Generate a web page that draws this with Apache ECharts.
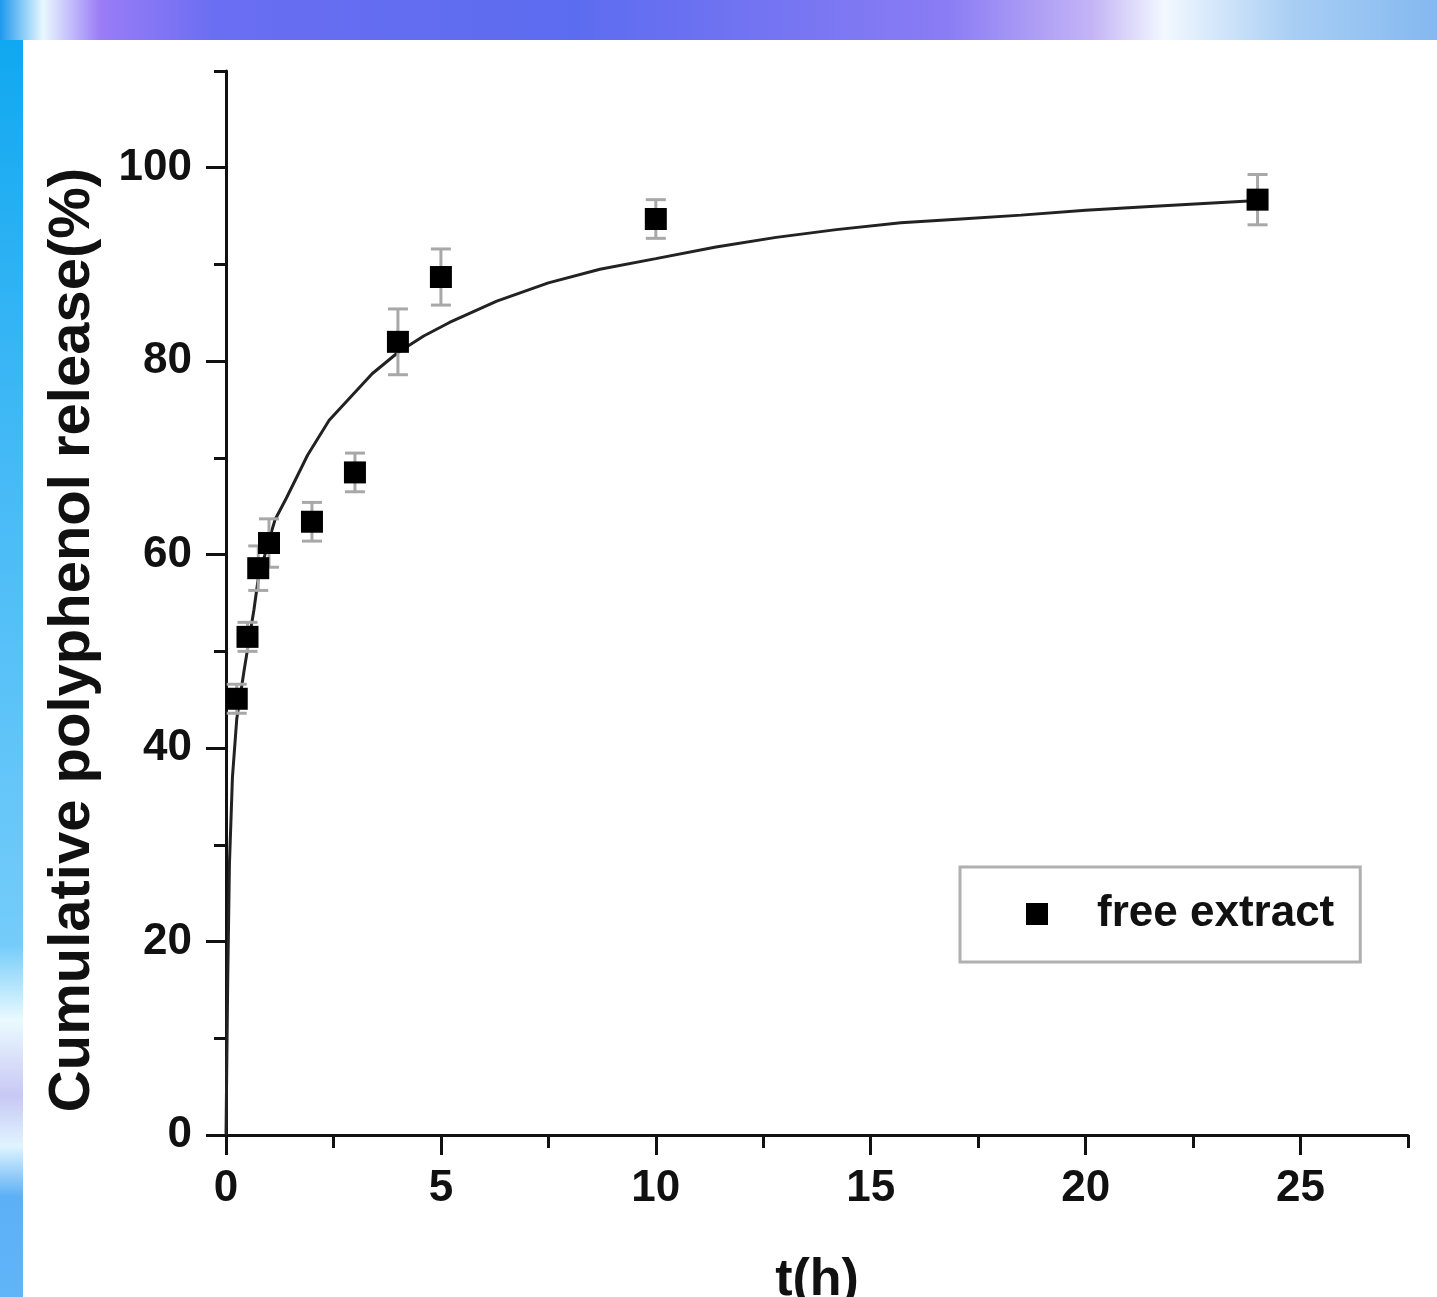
<!DOCTYPE html>
<html>
<head>
<meta charset="utf-8">
<script src="https://cdn.jsdelivr.net/npm/echarts@6/dist/echarts.min.js"></script>
<style>
  html, body {
    margin: 0;
    width: 1437px;
    height: 1297px;
    overflow: hidden;
  }
  body {
    position: relative;
    background: linear-gradient(90deg, #1e98ee 0%, #e8f8ff 3%, #9a7cf6 7%, #6a6ef2 15%, #5c6cf0 40%, #8a7cf4 66%, #c4b4f6 76%, #f2f8ff 81%, #a8cef4 90%, #84b8f0 100%);
  }
  .strip {
    position: absolute;
    left: 0;
    top: 40px;
    width: 23px;
    height: 1257px;
    background: linear-gradient(180deg, #10a8f0 0%, #40b8f6 30%, #74ccfa 72%, #eafaff 78%, #c8c8f4 84%, #e0f4ff 88%, #5cb0f6 92%, #60b4f8 100%);
  }
  #main {
    position: absolute;
    left: 23px;
    top: 40px;
    width: 1414px;
    height: 1257px;
    background: #fff;
  }
</style>
</head>
<body>
<div class="strip"></div>
<div id="main"></div>
<script>
// measured points (mean +- error)
const timeH = [0.25, 0.5, 0.75, 1, 2, 3, 4, 5, 10, 24]
const releasePct = [45.1, 51.5, 58.6, 61.2, 63.4, 68.5, 82.0, 88.7, 94.7, 96.7]
const releaseErr = [1.5, 1.5, 2.3, 2.5, 2.0, 2.0, 3.4, 2.9, 2.0, 2.6]

// fitted curve
const fitTime = [0, 0.04, 0.08, 0.15, 0.25, 0.42, 0.65, 0.75, 1, 1.14, 1.4, 1.9, 2.4, 2.9, 3.4, 4, 4.6, 5.2, 6.3, 7.5, 8.7, 10, 11.4, 12.8, 14.2, 15.7, 17.1, 18.5, 20, 21.5, 24]
const fitPct = [0, 16, 28, 37, 43, 48, 54.3, 57.5, 61.5, 63.6, 65.8, 70.3, 73.9, 76.3, 78.7, 80.9, 82.6, 84.0, 86.2, 88.1, 89.5, 90.6, 91.8, 92.8, 93.6, 94.3, 94.7, 95.1, 95.6, 96.0, 96.6]

// tick labels
const xMajorTicks = [0, 5, 10, 15, 20, 25]
const xMinorTicks = [2.5, 7.5, 12.5, 17.5, 22.5, 27.5]
const yMajorTicks = [0, 20, 40, 60, 80, 100]
const yMinorTicks = [10, 30, 50, 70, 90, 110]

const font = '"Liberation Sans", Arial, sans-serif'
const axisColor = '#111'

const myChart = echarts.init(document.getElementById('main'))

const pointData = timeH.map((t, i) => [t, releasePct[i]])
const errData = timeH.map((t, i) => [t, releasePct[i] - releaseErr[i], releasePct[i] + releaseErr[i]])
const fitData = fitTime.map((t, i) => [t, fitPct[i]])

const option = {
  animation: false,
  textStyle: { fontFamily: font },
  grid: {
    left: 203,
    top: 31,
    width: 1182,
    height: 1064,
    containLabel: false,
    outerBoundsMode: 'none'
  },
  legend: {
    data: [{ name: 'free extract', icon: 'rect' }],
    left: 937,
    top: 827,
    orient: 'vertical',
    itemWidth: 22,
    itemHeight: 22,
    padding: [25, 26, 26, 66],
    borderColor: '#b0b0b0',
    borderWidth: 3,
    textStyle: {
      fontFamily: font,
      fontWeight: 'bold',
      fontSize: 44,
      color: '#111',
      padding: [0, 0, 0, 44]
    }
  },
  xAxis: [
    {
      type: 'value',
      min: 0,
      max: 27.5,
      name: 't(h)',
      nameLocation: 'middle',
      nameGap: 120,
      nameTextStyle: { fontFamily: font, fontWeight: 'bold', fontSize: 52, color: '#111' },
      axisLine: { show: true, onZero: false, lineStyle: { color: axisColor, width: 3 } },
      axisTick: { show: true, customValues: xMajorTicks, length: 20, lineStyle: { color: axisColor, width: 3 } },
      axisLabel: {
        customValues: xMajorTicks,
        margin: 32,
        fontFamily: font,
        fontWeight: 'bold',
        fontSize: 44,
        color: '#111'
      },
      splitLine: { show: false }
    },
    {
      type: 'value',
      min: 0,
      max: 27.5,
      position: 'bottom',
      axisLine: { show: false },
      axisTick: { show: true, customValues: xMinorTicks, length: 13, lineStyle: { color: axisColor, width: 3 } },
      axisLabel: { show: false },
      splitLine: { show: false }
    }
  ],
  yAxis: [
    {
      type: 'value',
      min: 0,
      max: 110,
      name: 'Cumulative polyphenol release(%)',
      nameLocation: 'middle',
      nameGap: 124,
      nameTextStyle: {
        fontFamily: font,
        fontWeight: 'bold',
        fontSize: 58,
        color: '#111',
        padding: [0, 74, 0, 0]
      },
      axisLine: { show: true, onZero: false, lineStyle: { color: axisColor, width: 3 } },
      axisTick: { show: true, customValues: yMajorTicks, length: 20, lineStyle: { color: axisColor, width: 3 } },
      axisLabel: {
        customValues: yMajorTicks,
        margin: 34,
        fontFamily: font,
        fontWeight: 'bold',
        fontSize: 44,
        color: '#111'
      },
      splitLine: { show: false }
    },
    {
      type: 'value',
      min: 0,
      max: 110,
      position: 'left',
      axisLine: { show: false },
      axisTick: { show: true, customValues: yMinorTicks, length: 12, lineStyle: { color: axisColor, width: 3 } },
      axisLabel: { show: false },
      splitLine: { show: false }
    }
  ],
  series: [
    {
      name: 'fit',
      type: 'line',
      data: fitData,
      smooth: false,
      showSymbol: false,
      symbol: 'none',
      lineStyle: { color: '#222', width: 3 },
      z: 2
    },
    {
      name: 'error',
      type: 'custom',
      data: errData,
      z: 3,
      renderItem: (params, api) => {
        const x = api.value(0)
        const lo = api.coord([x, api.value(1)])
        const hi = api.coord([x, api.value(2)])
        const cap = 10
        const style = { stroke: '#a8a8a8', lineWidth: 3 }
        return {
          type: 'group',
          children: [
            { type: 'line', shape: { x1: lo[0], y1: lo[1], x2: hi[0], y2: hi[1] }, style },
            { type: 'line', shape: { x1: lo[0] - cap, y1: lo[1], x2: lo[0] + cap, y2: lo[1] }, style },
            { type: 'line', shape: { x1: hi[0] - cap, y1: hi[1], x2: hi[0] + cap, y2: hi[1] }, style }
          ]
        }
      }
    },
    {
      name: 'free extract',
      type: 'scatter',
      data: pointData,
      symbol: 'rect',
      symbolSize: 22,
      itemStyle: { color: '#000', opacity: 1 },
      z: 4
    }
  ]
}

myChart.setOption(option)
</script>
</body>
</html>
